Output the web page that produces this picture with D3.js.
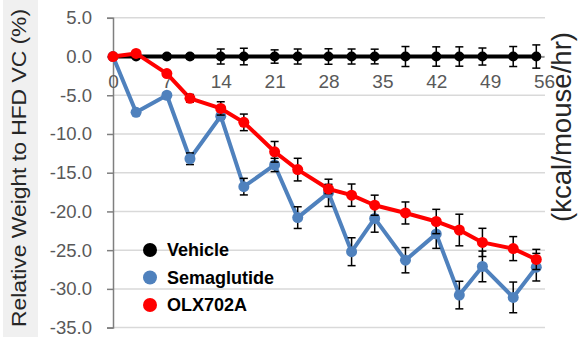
<!DOCTYPE html>
<html>
<head>
<meta charset="utf-8">
<script src="https://cdn.jsdelivr.net/npm/d3@7"></script>
<style>
  body { margin: 0; background: #fff; }
  svg text { font-family: Arial, "Liberation Sans", sans-serif; }
</style>
</head>
<body>
<svg id="chart" width="579" height="339"></svg>
<script>
// Measurement days and relative body weight (% vs HFD vehicle control), mean ± SEM
const days = [0, 3, 7, 10, 14, 17, 21, 24, 28, 31, 34, 38, 42, 45, 48, 52, 55];
const vehicle = [0, 0, 0, 0, 0, 0, 0, 0, 0, 0, 0, 0, 0, 0, 0, 0, 0];
const vehicleErr = [0, 0.2, 0.3, 0.3, 0.97, 1.07, 0.86, 0.97, 1.0, 0.97, 0.95, 1.29, 1.25, 1.25, 1.1, 1.29, 1.5];
const semaglutide = [0, -7.2, -5.0, -13.2, -7.7, -16.8, -14.0, -20.8, -17.6, -25.2, -20.9, -26.3, -22.9, -30.8, -27.1, -31.1, -27.2];
const semaglutideErr = [0, 0.3, 0.3, 0.75, 0.4, 1.07, 0.86, 1.4, 1.76, 1.8, 1.78, 1.63, 1.87, 1.78, 1.98, 1.98, 1.78];
const olx702a = [0, 0.4, -2.2, -5.4, -6.7, -8.5, -12.3, -14.6, -17.1, -17.9, -19.2, -20.2, -21.3, -22.4, -24.0, -24.8, -26.2];
const olx702aErr = [0, 0.2, 0.35, 0.5, 0.86, 1.07, 1.33, 1.46, 0.6, 1.44, 1.3, 1.42, 1.57, 2.04, 1.82, 1.55, 1.3];

const seriesNames = ["Vehicle", "Semaglutide", "OLX702A"];
const xTicks = [0, 7, 14, 21, 28, 35, 42, 49, 56];
const yTicks = [5, 0, -5, -10, -15, -20, -25, -30, -35];
const yTitle = "Relative Weight to HFD VC (%)";
const rightTitle = "(kcal/mouse/hr)";

const colors = ["#000000", "#4f81bd", "#ff0000"];

const svg = d3.select("#chart");

const x = d3.scaleLinear().domain([0, 56]).range([113, 544]);
const y = d3.scaleLinear().domain([-35, 5]).range([327.6, 17.8]);

// Y-axis title on a light grey band
svg.append("rect")
  .attr("x", 3).attr("y", 0).attr("width", 35).attr("height", 337)
  .attr("fill", "#f0f0f0");
svg.append("text")
  .attr("transform", "translate(26,168) rotate(-90)")
  .attr("text-anchor", "middle")
  .attr("font-size", 20)
  .attr("textLength", 318)
  .attr("lengthAdjust", "spacingAndGlyphs")
  .attr("fill", "#262626")
  .text(yTitle);

// Right-hand title
svg.append("text")
  .attr("transform", "translate(571,127) rotate(-90)")
  .attr("text-anchor", "middle")
  .attr("font-size", 27)
  .attr("textLength", 190)
  .attr("lengthAdjust", "spacingAndGlyphs")
  .attr("fill", "#262626")
  .text(rightTitle);

// Horizontal gridlines
svg.append("g")
  .selectAll("line")
  .data(yTicks)
  .join("line")
  .attr("x1", x(0)).attr("x2", 545)
  .attr("y1", d => y(d)).attr("y2", d => y(d))
  .attr("stroke", "#d9d9d9")
  .attr("stroke-width", 1.5);

// Y axis
const yAxis = svg.append("g")
  .attr("transform", `translate(${x(0)},0)`)
  .call(d3.axisLeft(y).tickValues(yTicks).tickSize(6).tickPadding(15)
    .tickFormat(d => d.toFixed(1)));
yAxis.select(".domain").attr("stroke", "#7f7f7f").attr("stroke-width", 1.5);
yAxis.selectAll(".tick line").attr("stroke", "#7f7f7f").attr("stroke-width", 1.5);
yAxis.selectAll(".tick text")
  .attr("font-size", 18.5)
  .attr("fill", "#595959")
  .attr("font-family", "Arial, 'Liberation Sans', sans-serif");

// X axis (crosses at 0)
const xAxis = svg.append("g")
  .attr("transform", `translate(0,${y(0)})`)
  .call(d3.axisBottom(x).tickValues(xTicks).tickSize(0).tickPadding(18)
    .tickFormat(d3.format("d")));
xAxis.select(".domain").attr("stroke", "#7f7f7f").attr("stroke-width", 1.5);
xAxis.selectAll(".tick text")
  .attr("font-size", 19)
  .attr("fill", "#595959")
  .attr("font-family", "Arial, 'Liberation Sans', sans-serif");

// Series
const allSeries = [
  { name: seriesNames[0], values: vehicle, err: vehicleErr, color: colors[0], r: 5 },
  { name: seriesNames[1], values: semaglutide, err: semaglutideErr, color: colors[1], r: 5.5 },
  { name: seriesNames[2], values: olx702a, err: olx702aErr, color: colors[2], r: 5.5 }
];

const line = d3.line()
  .x(d => x(d.day))
  .y(d => y(d.v));

allSeries.forEach(s => {
  const pts = days.map((day, i) => ({ day, v: s.values[i], e: s.err[i] }));
  const g = svg.append("g");

  g.append("path")
    .datum(pts)
    .attr("d", line)
    .attr("fill", "none")
    .attr("stroke", s.color)
    .attr("stroke-width", 4)
    .attr("stroke-linejoin", "round");

  // Error bars
  const eb = g.append("g")
    .selectAll("g")
    .data(pts.filter(p => p.e > 0))
    .join("g")
    .attr("stroke", "#000")
    .attr("stroke-width", 1.5);
  eb.append("line")
    .attr("x1", p => x(p.day)).attr("x2", p => x(p.day))
    .attr("y1", p => y(p.v - p.e)).attr("y2", p => y(p.v + p.e));
  eb.append("line")
    .attr("x1", p => x(p.day) - 4).attr("x2", p => x(p.day) + 4)
    .attr("y1", p => y(p.v - p.e)).attr("y2", p => y(p.v - p.e));
  eb.append("line")
    .attr("x1", p => x(p.day) - 4).attr("x2", p => x(p.day) + 4)
    .attr("y1", p => y(p.v + p.e)).attr("y2", p => y(p.v + p.e));

  g.append("g")
    .selectAll("circle")
    .data(pts)
    .join("circle")
    .attr("cx", p => x(p.day))
    .attr("cy", p => y(p.v))
    .attr("r", s.r)
    .attr("fill", s.color);
});

// Legend
const legend = svg.append("g")
  .selectAll("g")
  .data(allSeries)
  .join("g")
  .attr("transform", (d, i) => `translate(150,${250 + i * 27.5})`);
legend.append("circle")
  .attr("r", 7)
  .attr("fill", d => d.color);
legend.append("text")
  .attr("x", 17)
  .attr("dy", "0.35em")
  .attr("font-size", 18)
  .attr("font-weight", "bold")
  .attr("fill", "#000")
  .text(d => d.name);
</script>
</body>
</html>
